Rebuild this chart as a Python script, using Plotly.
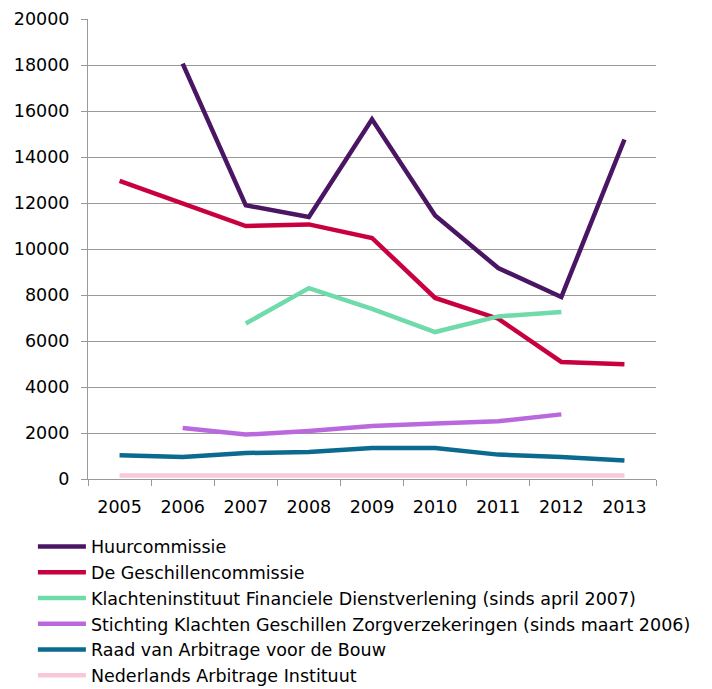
import plotly.graph_objects as go

years = ["2005", "2006", "2007", "2008", "2009", "2010", "2011", "2012", "2013"]

huurcommissie = [None, 18060, 11900, 11390, 15640, 11460, 9170, 7910, 14760]
geschillencommissie = [12960, 11980, 11000, 11070, 10480, 7870, 6970, 5090, 4990]
kifid = [None, None, 6760, 8300, 7400, 6390, 7070, 7260, None]
skgz = [None, 2220, 1930, 2090, 2300, 2410, 2510, 2810, None]
raad_bouw = [1030, 960, 1130, 1170, 1350, 1350, 1060, 960, 800]
nai = [150, 150, 150, 150, 150, 150, 150, 150, 150]

series = [
    ("Huurcommissie", huurcommissie, "#4A1562"),
    ("De Geschillencommissie", geschillencommissie, "#C9003F"),
    ("Klachteninstituut Financiele Dienstverlening (sinds april 2007)", kifid, "#6FDAAA"),
    ("Stichting Klachten Geschillen Zorgverzekeringen (sinds maart 2006)", skgz, "#BA68DE"),
    ("Raad van Arbitrage voor de Bouw", raad_bouw, "#0B6A90"),
    ("Nederlands Arbitrage Instituut", nai, "#F8C8DA"),
]

fig = go.Figure()
for name, vals, color in series:
    fig.add_trace(go.Scatter(
        x=years, y=vals, name=name, mode="lines",
        line=dict(color=color, width=4.5), connectgaps=False,
    ))

fig.update_layout(
    width=704, height=681,
    margin=dict(l=80, r=56, t=11, b=210, autoexpand=False),
    paper_bgcolor="white", plot_bgcolor="white",
    font=dict(family="DejaVu Sans", size=17.5, color="#000000"),
    showlegend=True,
    legend=dict(
        orientation="v", xref="paper", yref="paper",
        x=-0.097, y=-0.108, xanchor="left", yanchor="top",
        font=dict(family="DejaVu Sans", size=17.5, color="#000000"),
        tracegroupgap=0, itemwidth=48, bgcolor="rgba(0,0,0,0)",
    ),
)
fig.update_xaxes(
    type="category", range=[-0.5, 8.5], tickson="boundaries", ticks="outside", ticklen=6,
    tickcolor="#999999", showline=True, linecolor="#999999", linewidth=1,
    showgrid=False, tickfont=dict(size=17.5), ticklabelstandoff=12,
)
fig.update_yaxes(
    range=[0, 20000], dtick=2000, tickformat="d", ticks="outside", ticklen=6,
    tickcolor="#999999", showline=True, linecolor="#999999", linewidth=1,
    showgrid=True, gridcolor="#999999", gridwidth=1, zeroline=False,
    tickfont=dict(size=17.5), ticklabelstandoff=8,
)

fig.write_html("out.html")
